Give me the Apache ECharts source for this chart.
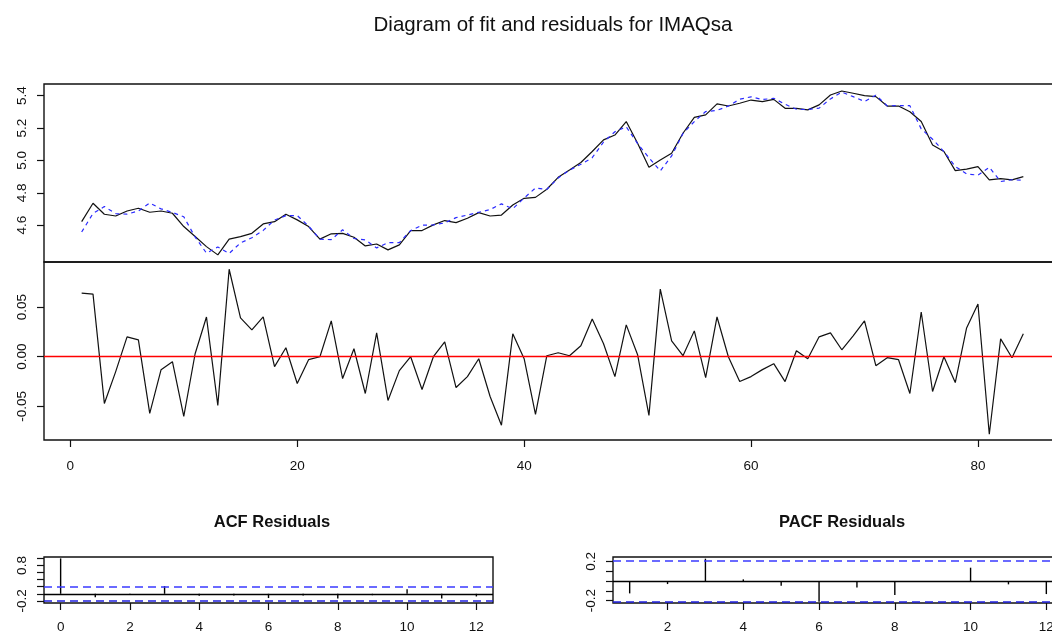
<!DOCTYPE html>
<html>
<head>
<meta charset="utf-8">
<title>Diagram of fit and residuals for IMAQsa</title>
<script src="https://cdn.jsdelivr.net/npm/echarts@6/dist/echarts.min.js"></script>
<style>
  html, body { margin: 0; padding: 0; background: #fff; }
  #chart { width: 1052px; height: 639px; }
</style>
</head>
<body>
<div id="chart"></div>
<script>
// Time index of the quarterly series
const period = Array.from({ length: 84 }, (_, i) => i + 1);

// Observed IMAQsa (log scale)
const observed = [
  4.622, 4.736, 4.668, 4.657, 4.688, 4.705, 4.680, 4.688, 4.674, 4.592,
  4.530, 4.468, 4.417, 4.514, 4.530, 4.550, 4.608, 4.622, 4.668, 4.633,
  4.592, 4.514, 4.547, 4.550, 4.526, 4.472, 4.484, 4.448, 4.479, 4.567,
  4.567, 4.602, 4.629, 4.616, 4.643, 4.678, 4.657, 4.663, 4.725, 4.766,
  4.772, 4.822, 4.896, 4.941, 4.987, 5.055, 5.127, 5.157, 5.240, 5.106,
  4.958, 5.003, 5.044, 5.168, 5.266, 5.281, 5.349, 5.336, 5.353, 5.373,
  5.363, 5.377, 5.322, 5.322, 5.312, 5.343, 5.404, 5.429, 5.415, 5.400,
  5.394, 5.336, 5.336, 5.301, 5.240, 5.096, 5.055, 4.937, 4.946, 4.962,
  4.880, 4.888, 4.880, 4.900
];

// Model fit
const fitted = [
  4.558, 4.673, 4.715, 4.672, 4.668, 4.688, 4.737, 4.701, 4.679, 4.652,
  4.527, 4.428, 4.466, 4.426, 4.491, 4.523, 4.568, 4.632, 4.659, 4.660,
  4.595, 4.514, 4.511, 4.572, 4.518, 4.509, 4.460, 4.492, 4.493, 4.567,
  4.600, 4.602, 4.614, 4.647, 4.663, 4.680, 4.697, 4.732, 4.702, 4.768,
  4.830, 4.821, 4.892, 4.940, 4.976, 5.017, 5.114, 5.177, 5.208, 5.104,
  5.017, 4.935, 5.028, 5.167, 5.240, 5.302, 5.309, 5.336, 5.378, 5.393,
  5.376, 5.384, 5.347, 5.316, 5.314, 5.323, 5.380, 5.422, 5.394, 5.364,
  5.403, 5.337, 5.339, 5.338, 5.195, 5.131, 5.055, 4.963, 4.917, 4.909,
  4.958, 4.870, 4.881, 4.877
];

// Residuals of the fit
const residuals = [
  0.064, 0.063, -0.047, -0.015, 0.020, 0.017, -0.057, -0.013, -0.005, -0.060,
  0.003, 0.040, -0.049, 0.088, 0.039, 0.027, 0.040, -0.010, 0.009, -0.027,
  -0.003, 0.000, 0.036, -0.022, 0.008, -0.037, 0.024, -0.044, -0.014, 0.000,
  -0.033, 0.000, 0.015, -0.031, -0.020, -0.002, -0.040, -0.069, 0.023, -0.002,
  -0.058, 0.001, 0.004, 0.001, 0.011, 0.038, 0.013, -0.020, 0.032, 0.002,
  -0.059, 0.068, 0.016, 0.001, 0.026, -0.021, 0.040, 0.000, -0.025, -0.020,
  -0.013, -0.007, -0.025, 0.006, -0.002, 0.020, 0.024, 0.007, 0.021, 0.036,
  -0.009, -0.001, -0.003, -0.037, 0.045, -0.035, 0.000, -0.026, 0.029, 0.053,
  -0.078, 0.018, -0.001, 0.023
];

// Autocorrelations of the residuals
const acfLags = [0, 1, 2, 3, 4, 5, 6, 7, 8, 9, 10, 11, 12];
const acfValues = [1.0, -0.094, -0.015, 0.220, -0.057, -0.047, -0.120, -0.050, -0.130, -0.040, 0.130, -0.130, -0.075];
const pacfLags = [1, 2, 3, 4, 5, 6, 7, 8, 9, 10, 11, 12];
const pacfValues = [-0.126, -0.031, 0.228, 0.017, -0.048, -0.210, -0.065, -0.143, -0.005, 0.136, -0.034, -0.133];
const confLimit = 0.214;

// Tick positions
const timeTicks = [0, 20, 40, 60, 80];
const levelTicks = [4.6, 4.8, 5.0, 5.2, 5.4];
const residTicks = [-0.05, 0.00, 0.05];
const acfXTicks = [0, 2, 4, 6, 8, 10, 12];
const acfYTicks = [-0.2, 0.0, 0.2, 0.4, 0.6, 0.8, 1.0];
const acfYLabelled = [-0.2, 0.8];
const pacfXTicks = [2, 4, 6, 8, 10, 12];
const pacfYTicks = [-0.2, -0.1, 0.0, 0.1, 0.2];
const pacfYLabelled = [-0.2, 0.2];

const FONT = "'Liberation Sans', Arial, sans-serif";
const INK = '#111';

function pairs(xs, ys) { return xs.map((x, i) => [x, ys[i]]); }

function yAxisBase(gridIndex, min, max, ticks, fmt) {
  return {
    type: 'value', gridIndex, min, max, position: 'left',
    axisLine: { show: false, onZero: false },
    splitLine: { show: false },
    axisTick: { show: true, inside: false, length: 7, customValues: ticks, lineStyle: { color: INK, width: 1.2 } },
    axisLabel: {
      show: true, customValues: ticks, rotate: 90, margin: 15,
      fontFamily: FONT, fontSize: 13.5, color: INK, formatter: fmt
    }
  };
}

function xAxisBase(gridIndex, min, max, ticks, margin) {
  return {
    type: 'value', gridIndex, min, max, position: 'bottom',
    axisLine: { show: false, onZero: false },
    splitLine: { show: false },
    axisTick: { show: true, inside: false, length: 7, customValues: ticks, lineStyle: { color: INK, width: 1.2 } },
    axisLabel: {
      show: true, customValues: ticks, margin,
      fontFamily: FONT, fontSize: 13.5, color: INK, formatter: v => String(v)
    }
  };
}

// Vertical spikes from zero, as in a correlogram
function spikes(params, api) {
  const p0 = api.coord([api.value(0), 0]);
  const p1 = api.coord([api.value(0), api.value(1)]);
  return {
    type: 'line',
    shape: { x1: p0[0], y1: p0[1], x2: p1[0], y2: p1[1] },
    style: { stroke: '#000', lineWidth: 1.4 }
  };
}

function limitLines() {
  return {
    silent: true, symbol: ['none', 'none'], label: { show: false }, animation: false,
    data: [
      { yAxis: 0, lineStyle: { color: '#000', type: 'solid', width: 1.3 } },
      { yAxis: confLimit, lineStyle: { color: '#3a3aff', type: [8, 5], width: 1.5 } },
      { yAxis: -confLimit, lineStyle: { color: '#2020e0', type: [8, 5], width: 1.6 } }
    ]
  };
}

const gridStyle = { show: true, borderColor: '#111', borderWidth: 1.4, backgroundColor: 'transparent', outerBoundsMode: 'none', containLabel: false };

const option = {
  animation: false,
  backgroundColor: '#fff',
  title: [
    { text: 'Diagram of fit and residuals for IMAQsa', left: 548, top: 10, textAlign: 'center',
      textStyle: { fontFamily: FONT, fontSize: 20.5, fontWeight: 'normal', color: INK } },
    { text: 'ACF Residuals', left: 267, top: 509, textAlign: 'center',
      textStyle: { fontFamily: FONT, fontSize: 16.5, fontWeight: 'bold', color: INK } },
    { text: 'PACF Residuals', left: 837, top: 509, textAlign: 'center',
      textStyle: { fontFamily: FONT, fontSize: 16.5, fontWeight: 'bold', color: INK } }
  ],
  grid: [
    Object.assign({ left: 44, top: 84, width: 1017, height: 178 }, gridStyle),
    Object.assign({ left: 44, top: 262, width: 1017, height: 178 }, gridStyle),
    Object.assign({ left: 44, top: 557, width: 449, height: 46 }, gridStyle),
    Object.assign({ left: 613, top: 557, width: 450, height: 46 }, gridStyle)
  ],
  xAxis: [
    { type: 'value', gridIndex: 0, min: -2.32, max: 87.32,
      axisLine: { show: false, onZero: false }, axisTick: { show: false }, axisLabel: { show: false }, splitLine: { show: false } },
    xAxisBase(1, -2.32, 87.32, timeTicks, 19),
    xAxisBase(2, -0.48, 12.48, acfXTicks, 17),
    xAxisBase(3, 0.56, 12.44, pacfXTicks, 17)
  ],
  yAxis: [
    yAxisBase(0, 4.373, 5.472, levelTicks, v => v.toFixed(1)),
    yAxisBase(1, -0.0838, 0.0953, residTicks, v => v.toFixed(2)),
    yAxisBase(2, -0.26, 1.04, acfYTicks, v => acfYLabelled.some(l => Math.abs(l - v) < 1e-9) ? v.toFixed(1) : ''),
    yAxisBase(3, -0.224, 0.245, pacfYTicks, v => pacfYLabelled.some(l => Math.abs(l - v) < 1e-9) ? v.toFixed(1) : '')
  ],
  series: [
    { name: 'Observed', type: 'line', xAxisIndex: 0, yAxisIndex: 0, data: pairs(period, observed),
      showSymbol: false, lineStyle: { color: '#111', width: 1.2 }, silent: true },
    { name: 'Fitted', type: 'line', xAxisIndex: 0, yAxisIndex: 0, data: pairs(period, fitted),
      showSymbol: false, lineStyle: { color: '#2a2aff', width: 1.2, type: [4, 4] }, silent: true },
    { name: 'Residuals', type: 'line', xAxisIndex: 1, yAxisIndex: 1, data: pairs(period, residuals),
      showSymbol: false, lineStyle: { color: '#111', width: 1.2 }, silent: true,
      markLine: { silent: true, symbol: ['none', 'none'], label: { show: false },
        data: [{ yAxis: 0 }], lineStyle: { color: '#ff0000', type: 'solid', width: 1.3 } } },
    { name: 'ACF', type: 'custom', xAxisIndex: 2, yAxisIndex: 2, data: pairs(acfLags, acfValues),
      renderItem: spikes, silent: true, markLine: limitLines() },
    { name: 'PACF', type: 'custom', xAxisIndex: 3, yAxisIndex: 3, data: pairs(pacfLags, pacfValues),
      renderItem: spikes, silent: true, markLine: limitLines() }
  ]
};

const chart = echarts.init(document.getElementById('chart'), null, { renderer: 'canvas' });
chart.setOption(option);
</script>
</body>
</html>
